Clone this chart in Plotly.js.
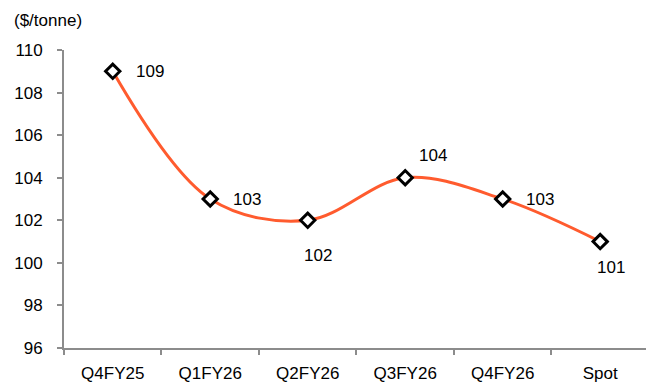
<!DOCTYPE html>
<html><head><meta charset="utf-8">
<script src="https://cdn.plot.ly/plotly-3.0.1.min.js"></script>
<style>html,body{margin:0;padding:0;background:#fff}#c{width:646px;height:387px}</style>
</head><body><div id="c"></div>
<script>
const categories = ["Q4FY25","Q1FY26","Q2FY26","Q3FY26","Q4FY26","Spot"];
const prices = [109,103,102,104,103,101];
const yTicks = [96,98,100,102,104,106,108,110];
const unitLabel = "($/tonne)";

const FONT = 'Liberation Sans, Arial, sans-serif';
const labelOffsets = [[37,0],[37,0],[10,35],[28,-22],[37,0],[11,26]];
const annotations = categories.map((c,i)=>({
  x: c, y: prices[i], xref:'x', yref:'y', text: String(prices[i]),
  showarrow:false, xshift: labelOffsets[i][0], yshift: -labelOffsets[i][1],
  font:{family:FONT, size:17, color:'#000'}
}));
annotations.push({xref:'paper',yref:'paper',x:-0.09,y:1.1,xanchor:'left',yanchor:'middle',
  text:unitLabel,showarrow:false,font:{family:FONT,size:17,color:'#000'}});

const trace = {
  x: categories, y: prices, type:'scatter', mode:'lines+markers',
  line:{color:'#FF5B2E', width:3, shape:'spline', smoothing:1},
  marker:{symbol:'diamond', size:11, color:'#fff', line:{color:'#000', width:3}},
  cliponaxis:false, hoverinfo:'skip'
};
const layout = {
  width:646, height:387,
  margin:{l:64, r:0, t:50, b:39},
  paper_bgcolor:'#fff', plot_bgcolor:'#fff',
  showlegend:false,
  font:{family:FONT, size:17, color:'#000'},
  xaxis:{type:'category', range:[-0.5,5.47], showgrid:false, zeroline:false,
    showline:true, linecolor:'#8c8c8c', linewidth:2,
    ticks:'outside', ticklen:5, tickcolor:'#8c8c8c', tickwidth:2,
    tickson:'boundaries', tickfont:{size:17}, ticklabelstandoff:9, fixedrange:true},
  yaxis:{range:[96,110], tickvals:yTicks, showgrid:false, zeroline:false,
    showline:true, linecolor:'#8c8c8c', linewidth:2,
    ticks:'outside', ticklen:5, tickcolor:'#8c8c8c', tickwidth:2,
    tickfont:{size:17}, ticklabelstandoff:11, fixedrange:true},
  annotations: annotations
};
Plotly.newPlot('c',[trace],layout,{staticPlot:true, displayModeBar:false});
</script></body></html>
